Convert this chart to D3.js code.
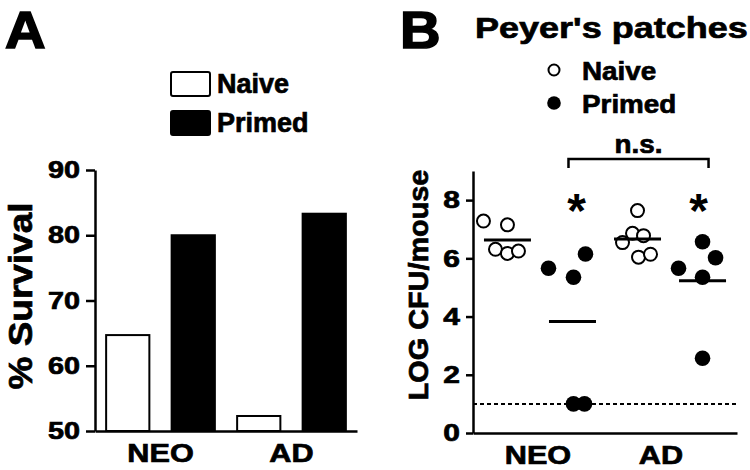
<!DOCTYPE html>
<html>
<head>
<meta charset="utf-8">
<script src="https://cdn.jsdelivr.net/npm/d3@7"></script>
<style>
  body { margin: 0; background: #fff; }
  svg text { font-family: "Liberation Sans", Arial, sans-serif; font-weight: bold; fill: #000; stroke: #000; stroke-width: 0.7px; }
  svg text.star { stroke: none; }
  svg text.panel { stroke-width: 1.6px; }
</style>
</head>
<body>
<div id="chart"></div>
<script>
// ---- panel A data: % survival
const survivalCategories = ["NEO", "AD"];
const survivalGroups = ["Naive", "Primed"];
const survivalNaive = [64.7, 52.3];
const survivalPrimed = [80.0, 83.3];
const survivalTicks = [50, 60, 70, 80, 90];

// ---- panel B data: LOG CFU/mouse in Peyer's patches
const cfuCategories = ["NEO", "AD"];
const cfuGroups = ["Naive", "Primed"];
const cfuNeoNaive = [7.28, 7.15, 6.31, 6.17, 6.25];
const cfuNeoPrimed = [5.66, 5.35, 6.15, 1.0, 1.0];
const cfuAdNaive = [7.64, 6.86, 6.78, 6.54, 6.04, 6.14];
const cfuAdPrimed = [6.57, 6.02, 5.66, 5.35, 2.57];
const cfuTicks = [0, 2, 4, 6, 8];
const detectionLimit = 1;

// horizontal scatter of the dots inside a group (px), layout only
const jitterNeoNaive = [-24, 0, -12, 0, 11];
const jitterNeoPrimed = [-24, 1, 13, 1, 12];
const jitterAdNaive = [0, -5, 6, -15, 1, 13];
const jitterAdPrimed = [0, 13, -24, 0, 0];

const width = 750, height = 470;

const svg = d3.select("#chart").append("svg")
  .attr("width", width)
  .attr("height", height);

// stretch text by factor k (the figure's glyphs are wider than Arial)
function widen(sel, k) {
  sel.each(function () {
    const len = this.getComputedTextLength();
    d3.select(this).attr("textLength", len * k).attr("lengthAdjust", "spacingAndGlyphs");
  });
}

function styleAxis(g, sw) {
  g.select(".domain").attr("stroke", "#000").attr("stroke-width", sw);
  g.selectAll(".tick line").attr("stroke", "#000").attr("stroke-width", sw);
  g.selectAll("text").attr("fill", "#000");
}

function drawPanelA() {
  const g = svg.append("g");
  const y = d3.scaleLinear().domain([50, 90]).range([431, 170]);
  const x0 = d3.scaleBand().domain(survivalCategories).range([95, 357])
    .paddingInner(0.17).paddingOuter(0.085);
  const x1 = d3.scaleBand().domain(survivalGroups).range([0, x0.bandwidth()])
    .paddingInner(0.34);

  const bars = [];
  survivalCategories.forEach((c, i) => {
    bars.push({ cat: c, group: "Naive", value: survivalNaive[i] });
    bars.push({ cat: c, group: "Primed", value: survivalPrimed[i] });
  });

  g.selectAll("rect.bar")
    .data(bars)
    .enter()
    .append("rect")
    .attr("class", "bar")
    .attr("x", d => x0(d.cat) + x1(d.group))
    .attr("y", d => y(d.value))
    .attr("width", x1.bandwidth())
    .attr("height", d => y(50) - y(d.value))
    .attr("fill", d => d.group === "Naive" ? "#fff" : "#000")
    .attr("stroke", "#000")
    .attr("stroke-width", 2);

  const yAxis = g.append("g")
    .attr("transform", "translate(95,0)")
    .call(d3.axisLeft(y).tickValues(survivalTicks).tickSize(9).tickSizeOuter(0).tickPadding(6));
  styleAxis(yAxis, 2.5);
  yAxis.selectAll("text").attr("font-size", 24).attr("font-family", null);
  widen(yAxis.selectAll("text"), 1.2);

  const xAxis = g.append("g")
    .attr("transform", "translate(0,431)")
    .call(d3.axisBottom(x0).tickSize(0).tickSizeOuter(0).tickPadding(13));
  styleAxis(xAxis, 2.5);
  xAxis.selectAll("text").attr("font-size", 26).attr("font-family", null);
  widen(xAxis.selectAll("text"), 1.18);

  const yl = g.append("text")
    .attr("transform", "translate(32,296) rotate(-90)")
    .attr("text-anchor", "middle")
    .attr("font-size", 33)
    .text("% Survival");
  widen(yl, 1.12);

  const pa = g.append("text").attr("class", "panel").attr("x", 5).attr("y", 48).attr("font-size", 52).text("A");
  widen(pa, 1.08);

  // legend
  const leg = g.selectAll("g.leg")
    .data(survivalGroups)
    .enter()
    .append("g")
    .attr("class", "leg")
    .attr("transform", (d, i) => "translate(171," + (72 + i * 39) + ")");
  leg.append("rect")
    .attr("width", 39).attr("height", 24).attr("rx", 2)
    .attr("fill", d => d === "Naive" ? "#fff" : "#000")
    .attr("stroke", "#000").attr("stroke-width", 2);
  leg.append("text")
    .attr("x", 46).attr("y", 21)
    .attr("font-size", 27)
    .text(d => d);
}

function drawPanelB() {
  const g = svg.append("g");
  const y = d3.scaleLinear().domain([0, 9]).range([433, 171]);
  const x0 = d3.scaleBand().domain(cfuCategories).range([473, 737])
    .paddingInner(0).paddingOuter(0.015);
  const x1 = d3.scalePoint().domain(cfuGroups).range([0, x0.bandwidth()]).padding(0.5);
  const cx = (cat, group) => x0(cat) + x1(group);

  const series = [
    { cat: "NEO", group: "Naive", values: cfuNeoNaive, jitter: jitterNeoNaive },
    { cat: "NEO", group: "Primed", values: cfuNeoPrimed, jitter: jitterNeoPrimed },
    { cat: "AD", group: "Naive", values: cfuAdNaive, jitter: jitterAdNaive },
    { cat: "AD", group: "Primed", values: cfuAdPrimed, jitter: jitterAdPrimed }
  ];

  // detection limit
  g.append("line")
    .attr("x1", x0.range()[0]).attr("x2", x0.range()[1])
    .attr("y1", y(detectionLimit)).attr("y2", y(detectionLimit))
    .attr("stroke", "#000").attr("stroke-width", 2)
    .attr("stroke-dasharray", "4,3");

  const dots = [];
  series.forEach(s => s.values.forEach((v, i) => {
    dots.push({ x: cx(s.cat, s.group) + s.jitter[i], v: v, group: s.group });
  }));

  g.selectAll("circle.dot")
    .data(dots)
    .enter()
    .append("circle")
    .attr("class", "dot")
    .attr("cx", d => d.x)
    .attr("cy", d => y(d.v))
    .attr("r", d => d.group === "Naive" ? 6.5 : 7.8)
    .attr("fill", d => d.group === "Naive" ? "#fff" : "#000")
    .attr("stroke", d => d.group === "Naive" ? "#000" : "none")
    .attr("stroke-width", 2);

  // mean lines
  g.selectAll("line.mean")
    .data(series)
    .enter()
    .append("line")
    .attr("class", "mean")
    .attr("x1", d => cx(d.cat, d.group) - 23.5)
    .attr("x2", d => cx(d.cat, d.group) + 23.5)
    .attr("y1", d => y(d3.mean(d.values)))
    .attr("y2", d => y(d3.mean(d.values)))
    .attr("stroke", "#000")
    .attr("stroke-width", 3);

  const yAxis = g.append("g")
    .attr("transform", "translate(473,0)")
    .call(d3.axisLeft(y).tickValues(cfuTicks).tickSize(7).tickSizeOuter(0).tickPadding(6));
  styleAxis(yAxis, 2.5);
  yAxis.selectAll("text").attr("font-size", 24).attr("font-family", null);
  widen(yAxis.selectAll("text"), 1.25);

  const xAxis = g.append("g")
    .attr("transform", "translate(0,433)")
    .call(d3.axisBottom(x0).tickSize(0).tickSizeOuter(0).tickPadding(13));
  styleAxis(xAxis, 2.5);
  xAxis.selectAll("text").attr("font-size", 26).attr("font-family", null)
    .attr("dx", d => d === "AD" ? -9 : -2);
  widen(xAxis.selectAll("text"), 1.18);

  const yl = g.append("text")
    .attr("transform", "translate(428,285) rotate(-90)")
    .attr("text-anchor", "middle")
    .attr("font-size", 28)
    .text("LOG CFU/mouse");
  widen(yl, 1.03);

  // significance stars over primed groups
  g.selectAll("text.star")
    .data(cfuCategories)
    .enter()
    .append("text")
    .attr("class", "star")
    .attr("x", d => cx(d, "Primed") + (d === "NEO" ? 4 : -4))
    .attr("y", y(8) + 27)
    .attr("text-anchor", "middle")
    .attr("font-size", 48)
    .attr("font-weight", "normal")
    .text("*");

  // n.s. bracket
  const bx1 = cx("NEO", "Primed") - 4, bx2 = cx("AD", "Primed") + 6;
  g.append("path")
    .attr("d", "M" + bx1 + ",168V159H" + bx2 + "V168")
    .attr("fill", "none").attr("stroke", "#000").attr("stroke-width", 2.5);
  const ns = g.append("text")
    .attr("x", (bx1 + bx2) / 2).attr("y", 153)
    .attr("text-anchor", "middle")
    .attr("font-size", 26)
    .text("n.s.");
  widen(ns, 1.07);

  const pb = g.append("text").attr("class", "panel").attr("x", 400).attr("y", 48).attr("font-size", 52).text("B");
  widen(pb, 1.08);
  const title = g.append("text").attr("x", 475).attr("y", 38).attr("font-size", 30).text("Peyer's patches");
  widen(title, 1.2);

  // legend
  const leg = g.selectAll("g.leg")
    .data(cfuGroups)
    .enter()
    .append("g")
    .attr("class", "leg")
    .attr("transform", (d, i) => "translate(554," + (70 + i * 33) + ")");
  leg.append("circle")
    .attr("r", d => d === "Naive" ? 5.5 : 6.8)
    .attr("fill", d => d === "Naive" ? "#fff" : "#000")
    .attr("stroke", d => d === "Naive" ? "#000" : "none")
    .attr("stroke-width", 2);
  const lt = leg.append("text")
    .attr("x", 28).attr("y", 10)
    .attr("font-size", 26)
    .text(d => d);
  widen(lt, 1.07);
}

drawPanelA();
drawPanelB();
</script>
</body>
</html>
